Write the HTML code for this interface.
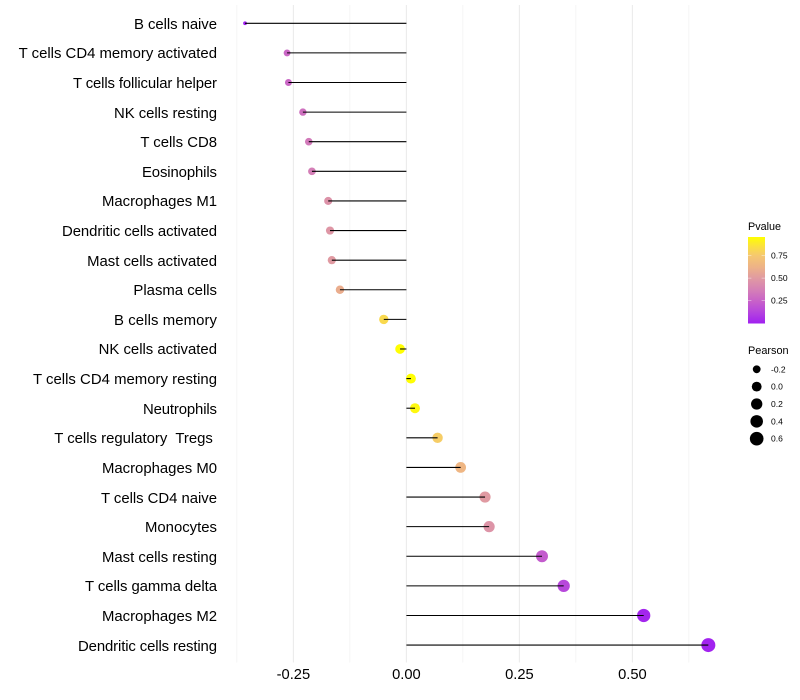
<!DOCTYPE html>
<html>
<head>
<meta charset="utf-8">
<title>Lollipop chart</title>
<style>
html,body{margin:0;padding:0;background:#fff;}
svg{display:block;font-family:"Liberation Sans",sans-serif;}
</style>
</head>
<body>
<svg id="chart" width="800" height="700" viewBox="0 0 800 700" xmlns="http://www.w3.org/2000/svg">
<defs>
<linearGradient id="pgrad" x1="0" y1="1" x2="0" y2="0">
<stop offset="0" stop-color="#A020F0"/>
<stop offset="0.13" stop-color="#B544DE"/>
<stop offset="0.262" stop-color="#C862C8"/>
<stop offset="0.39" stop-color="#D580B6"/>
<stop offset="0.524" stop-color="#E09AA2"/>
<stop offset="0.65" stop-color="#EDB288"/>
<stop offset="0.785" stop-color="#F5C870"/>
<stop offset="0.89" stop-color="#FBE040"/>
<stop offset="1" stop-color="#FFFF00"/>
</linearGradient>
</defs>
<g id="grid"></g>
<g id="marks"></g>
<g id="ylabels"></g>
<g id="xlabels"></g>
<g id="legend-color">
<text x="748" y="230" font-size="10.8" fill="#000">Pvalue</text>
<rect x="748" y="237" width="17" height="86.5" fill="url(#pgrad)"/>
</g>
<g id="legend-size">
<text x="748" y="354" font-size="10.9" fill="#000">Pearson</text>
</g>
</svg>
<script>
const cellTypes = ["B cells naive","T cells CD4 memory activated","T cells follicular helper","NK cells resting","T cells CD8","Eosinophils","Macrophages M1","Dendritic cells activated","Mast cells activated","Plasma cells","B cells memory","NK cells activated","T cells CD4 memory resting","Neutrophils","T cells regulatory  Tregs ","Macrophages M0","T cells CD4 naive","Monocytes","Mast cells resting","T cells gamma delta","Macrophages M2","Dendritic cells resting"];
const pearson = [-0.357,-0.264,-0.261,-0.229,-0.216,-0.209,-0.173,-0.169,-0.165,-0.147,-0.05,-0.014,0.01,0.019,0.069,0.12,0.174,0.183,0.30,0.348,0.525,0.668];
const pvalue = [0.0,0.27,0.27,0.31,0.35,0.37,0.46,0.48,0.5,0.6,0.82,0.95,0.95,0.93,0.77,0.65,0.5,0.47,0.22,0.14,0.02,0.01];
const xTicks = [-0.25,0,0.25,0.5];
const xTickLabels = ["-0.25","0.00","0.25","0.50"];
const xMinorTicks = [-0.375,-0.125,0.125,0.375,0.625];
const pTicks = [0.25,0.5,0.75];
const pTickLabels = ["0.25","0.50","0.75"];
const sizeBreaks = [-0.2,0,0.2,0.4,0.6];
const sizeBreakLabels = ["-0.2","0.0","0.2","0.4","0.6"];

const NS = "http://www.w3.org/2000/svg";
function xScale(v){ return 406.4 + v * 452; }
function yScale(i){ return 23.28 + i * 29.61; }
function pY(p){ return 323.3 - p * 90.4; }
function rScale(v){
  const lo = Math.min.apply(null, pearson), hi = Math.max.apply(null, pearson);
  const t = Math.max(0, (v - lo) / (hi - lo));
  return 1.9 + 5.1 * Math.sqrt(t);
}
function colorScale(p){
  const stops = [[0,[160,32,240]],[0.125,[181,68,222]],[0.25,[200,98,200]],[0.375,[213,128,182]],[0.5,[224,154,162]],[0.625,[237,178,136]],[0.75,[245,200,112]],[0.85,[251,224,64]],[0.955,[255,255,0]]];
  for(let i=1;i<stops.length;i++){
    if(p<=stops[i][0]){
      const a=stops[i-1],b=stops[i],t=(p-a[0])/(b[0]-a[0]);
      return "rgb("+a[1].map((c,k)=>Math.round(c+(b[1][k]-c)*t)).join(",")+")";
    }
  }
  return "rgb(255,255,0)";
}
function mk(tag, attrs, parent, txt){
  const el = document.createElementNS(NS, tag);
  for(const k in attrs){ el.setAttribute(k, attrs[k]); }
  if(txt !== undefined){ el.textContent = txt; }
  parent.appendChild(el);
  return el;
}
// Rendered label widths in the reference (its hinted font differs slightly).
const labelFit = {"T cells follicular helper":144,"Dendritic cells resting":139,"B cells naive":83,"NK cells resting":103,"Eosinophils":75,"Dendritic cells activated":155,"B cells memory":103,"T cells CD4 memory resting":184,"Neutrophils":74,"T cells CD4 naive":116,"T cells gamma delta":132};
const gGrid = document.getElementById("grid");
const gMarks = document.getElementById("marks");
const gY = document.getElementById("ylabels");
const gX = document.getElementById("xlabels");
const gColor = document.getElementById("legend-color");
const gSize = document.getElementById("legend-size");

xMinorTicks.forEach(function(v){
  const el = mk("line",{x1:xScale(v),x2:xScale(v),y1:5,y2:662.5,stroke:"#ebebeb","stroke-width":0.53},gGrid);
  
  
});
xTicks.forEach(function(v,i){
  const el = mk("line",{x1:xScale(v),x2:xScale(v),y1:5,y2:662.5,stroke:"#ebebeb","stroke-width":1.07},gGrid);
  
  
  const t = mk("text",{x:xScale(v),y:679,"text-anchor":"middle","font-size":14.7,fill:"#000"},gX,xTickLabels[i]);
  
  
});
cellTypes.forEach(function(name,i){
  const y = yScale(i);
  const t = mk("text",{x:217,y:Math.round(y+5.5),"text-anchor":"end","font-size":14.9,fill:"#000"},gY,name);
  t.setAttribute('xml:space', 'preserve');
  t.style.whiteSpace = 'pre';
  if(labelFit[name]){ t.setAttribute('textLength', labelFit[name]); }
  
  
  const c = mk("circle",{cx:xScale(pearson[i]),cy:y,r:rScale(pearson[i]),fill:colorScale(pvalue[i])},gMarks);
  
  
  const l = mk("line",{x1:xScale(0),x2:xScale(pearson[i]),y1:y,y2:y,stroke:"#000","stroke-width":1.07},gMarks);
  
  
});
pTicks.forEach(function(p,i){
  const y = pY(p);
  const a = mk("line",{x1:748,x2:751.4,y1:y,y2:y,stroke:"#fff","stroke-width":0.5,"stroke-opacity":0.8},gColor);
  
  
  const b = mk("line",{x1:761.6,x2:765,y1:y,y2:y,stroke:"#fff","stroke-width":0.5,"stroke-opacity":0.8},gColor);
  
  
  const t = mk("text",{x:771,y:y+3,"font-size":8.5,fill:"#000"},gColor,pTickLabels[i]);
  
  
});
sizeBreaks.forEach(function(v,i){
  const y = 369.3 + i * 17.35;
  const c = mk("circle",{cx:756.7,cy:y,r:rScale(v),fill:"#000"},gSize);
  
  
  const t = mk("text",{x:771,y:y+3,"font-size":8.5,fill:"#000"},gSize,sizeBreakLabels[i]);
  
  
});
</script>
</body>
</html>
